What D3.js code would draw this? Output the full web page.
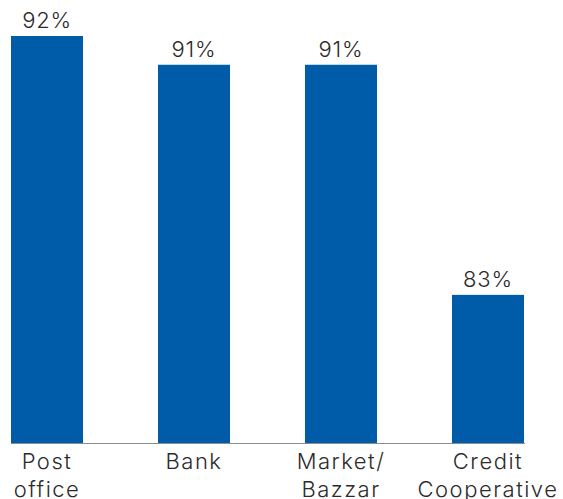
<!DOCTYPE html>
<html>
<head>
<meta charset="utf-8">
<script src="https://cdn.jsdelivr.net/npm/d3@7"></script>
<style>
  html, body { margin: 0; padding: 0; background: #fff; }
  svg { display: block; }
  text { font-family: Inter, "Noto Sans", sans-serif; font-weight: 300; fill: #2b2b2b; }
</style>
</head>
<body>
<svg id="chart" width="563" height="499"></svg>
<script>
// Share of respondents by place of access
const categories = [["Post", "office"], ["Bank"], ["Market/", "Bazzar"], ["Credit", "Cooperative"]];
const values = [92, 91, 91, 83];
const valueLabels = ["92%", "91%", "91%", "83%"];

const svg = d3.select("#chart");
const baseline = 443;

const x = d3.scaleBand()
  .domain(d3.range(categories.length))
  .range([11, 524])
  .paddingInner(0.51)
  .paddingOuter(0);

const y = d3.scaleLinear()
  .domain([77.85, 92])
  .range([baseline, 36]);

svg.append("g").selectAll("rect")
  .data(values)
  .join("rect")
  .attr("x", (d, i) => x(i))
  .attr("y", d => y(d))
  .attr("width", x.bandwidth())
  .attr("height", d => baseline - y(d))
  .attr("fill", "#005ca8");

svg.append("line")
  .attr("x1", 11).attr("x2", 525)
  .attr("y1", baseline + 0.5).attr("y2", baseline + 0.5)
  .attr("stroke", "#8c8c8c").attr("stroke-width", 1.2);

svg.append("g").selectAll("text")
  .data(values)
  .join("text")
  .attr("x", (d, i) => x(i) + x.bandwidth() / 2)
  .attr("y", d => y(d) - 8)
  .attr("text-anchor", "middle")
  .style("font-size", "22px")
  .style("letter-spacing", "0.8px")
  .text((d, i) => valueLabels[i]);

const cat = svg.append("g").selectAll("text")
  .data(categories)
  .join("text")
  .attr("text-anchor", "middle")
  .style("font-size", "22px")
  .style("letter-spacing", "1.5px");

cat.selectAll("tspan")
  .data((d, i) => d.map(line => ({ line, i })))
  .join("tspan")
  .attr("x", d => x(d.i) + x.bandwidth() / 2)
  .attr("y", (d, j) => 469 + j * 27.5)
  .text(d => d.line);
</script>
</body>
</html>
